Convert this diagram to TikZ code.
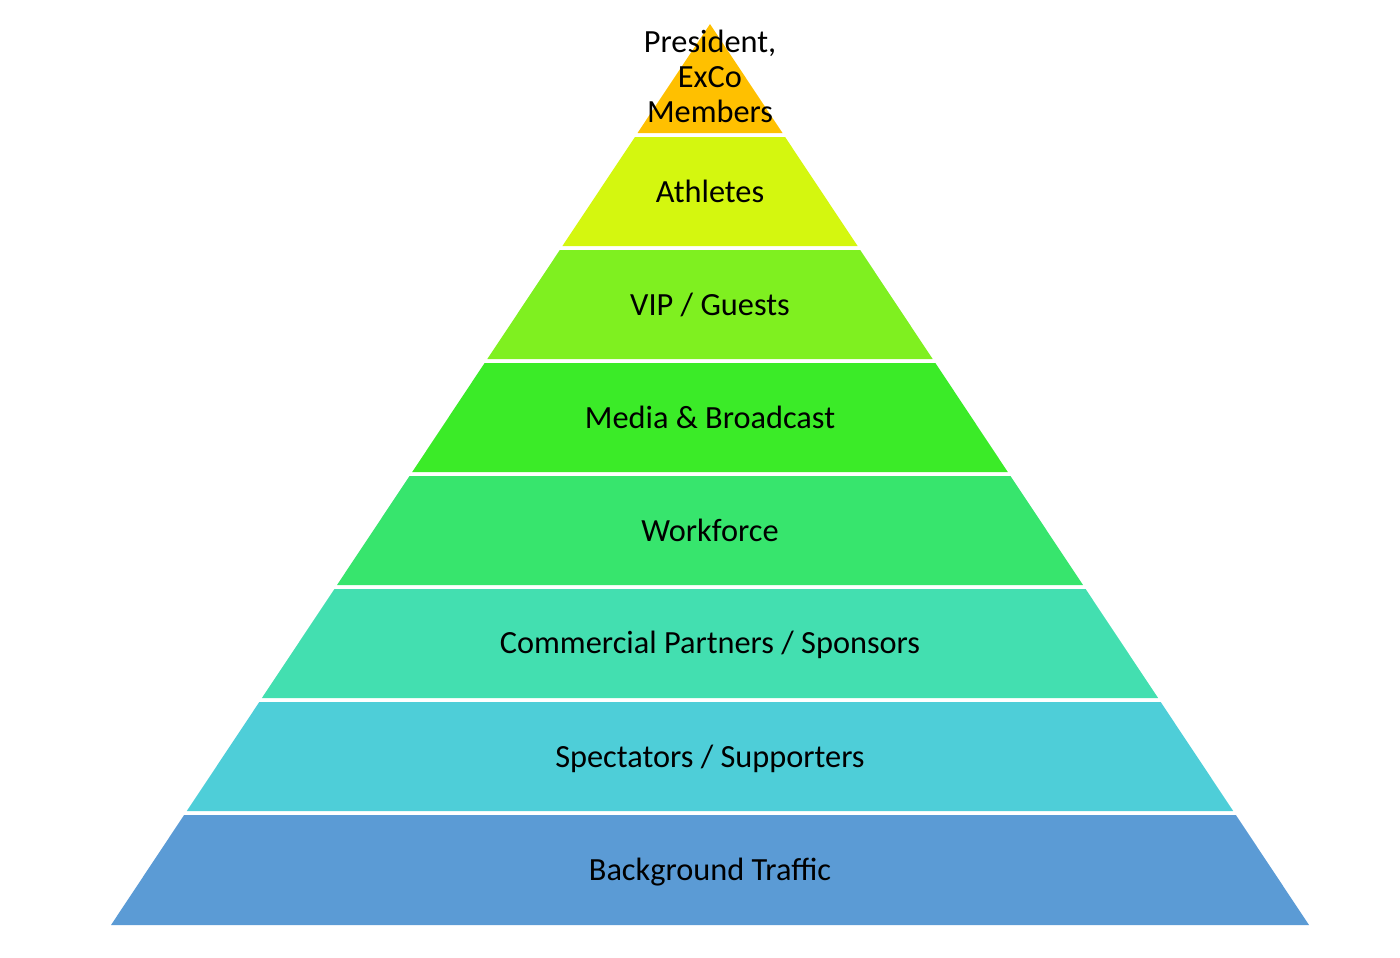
\documentclass[tikz,border=0pt]{standalone}
\usepackage{fontspec}
\setmainfont{Carlito}
\usetikzlibrary{calc}
\definecolor{cTop}{HTML}{FFC000}
\definecolor{cAth}{HTML}{D4F70F}
\definecolor{cVip}{HTML}{7FF020}
\definecolor{cMed}{HTML}{3BEB28}
\definecolor{cWork}{HTML}{37E56D}
\definecolor{cCom}{HTML}{43DFB0}
\definecolor{cSpec}{HTML}{4ECED8}
\definecolor{cBack}{HTML}{5B9BD5}
\tikzset{
  layer/.style={draw=none},
  lbl/.style={font=\fontsize{9.2}{9.96}\selectfont, text=black, inner sep=0pt, align=center}
}

\begin{document}
\begin{tikzpicture}[x=1cm,y=1cm]
    \useasboundingbox (0,0) rectangle (14,-9.57);
    % Spitze
    \fill[layer, cTop] (7.10,-0.24) -- (7.825,-1.33) -- (6.375,-1.33) -- cycle;
    \node[lbl] (president) at (7.10,-0.76) {President,\\ExCo\\Members};
    % Stufen
    \fill[layer, cAth] (6.349,-1.37) -- (7.851,-1.37) -- (8.576,-2.46) -- (5.624,-2.46) -- cycle;
    \node[lbl] (athletes) at (7.10,-1.91) {Athletes};
    \fill[layer, cVip] (5.598,-2.50) -- (8.602,-2.50) -- (9.327,-3.59) -- (4.873,-3.59) -- cycle;
    \node[lbl] (vip) at (7.10,-3.045) {VIP / Guests};
    \fill[layer, cMed] (4.846,-3.63) -- (9.354,-3.63) -- (10.078,-4.72) -- (4.122,-4.72) -- cycle;
    \node[lbl] (media) at (7.10,-4.175) {Media \& Broadcast};
    \fill[layer, cWork] (4.095,-4.76) -- (10.105,-4.76) -- (10.830,-5.85) -- (3.370,-5.85) -- cycle;
    \node[lbl] (workforce) at (7.10,-5.305) {Workforce};
    \fill[layer, cCom] (3.344,-5.89) -- (10.856,-5.89) -- (11.581,-6.98) -- (2.619,-6.98) -- cycle;
    \node[lbl] (commercial) at (7.10,-6.445) {Commercial Partners / Sponsors};
    \fill[layer, cSpec] (2.593,-7.02) -- (11.607,-7.02) -- (12.332,-8.11) -- (1.868,-8.11) -- cycle;
    \node[lbl] (spectators) at (7.10,-7.585) {Spectators / Supporters};
    \fill[layer, cBack] (1.841,-8.15) -- (12.359,-8.15) -- (13.090,-9.25) -- (1.110,-9.25) -- cycle;
    \node[lbl] (background) at (7.10,-8.72) {Background Traffic};
\end{tikzpicture}
\end{document}
